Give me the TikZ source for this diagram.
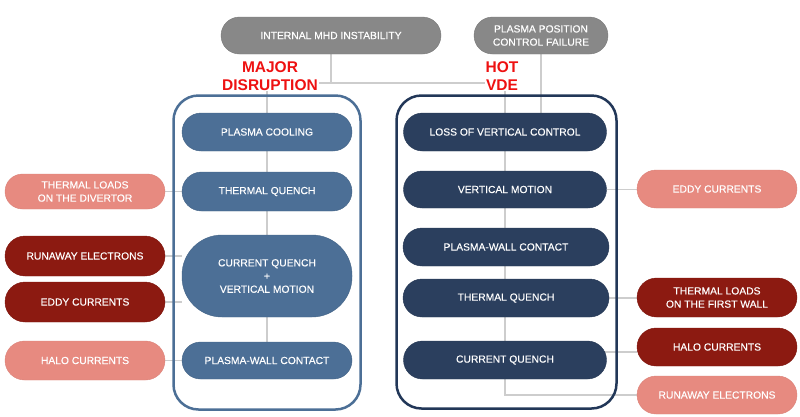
\documentclass[tikz,border=0pt]{standalone}
\usepackage{fontspec}
\setmainfont{Liberation Sans}
\newfontfamily\pillfont{Liberation Sans}[FakeBold=0.3]
\usetikzlibrary{backgrounds}
\definecolor{mgray}{HTML}{888888}
\definecolor{lblue}{HTML}{4C6F96}
\definecolor{navy}{HTML}{2B3F5E}
\definecolor{navyline}{HTML}{223758}
\definecolor{dred}{HTML}{8C1A11}
\definecolor{salmon}{HTML}{E78A80}
\definecolor{conn}{HTML}{CDCDCD}
\definecolor{redtxt}{HTML}{EE1111}
\begin{document}
\begin{tikzpicture}[x=1pt,y=-1pt,
  pill/.style={rectangle, text=white, align=center, inner sep=0pt,
    font=\pillfont\fontsize{10.3}{13.2}\selectfont},
  sz/.style n args={3}{minimum width=#1, minimum height=#2, rounded corners=#3},
  grayb/.style={pill, fill=mgray, draw=mgray!90!black, line width=0.4pt},
  lb/.style={pill, fill=lblue, draw=lblue!90!black, line width=0.4pt},
  nv/.style={pill, fill=navy, draw=navy!90!black, line width=0.4pt},
  dr/.style={pill, fill=dred, draw=dred!90!black, line width=0.4pt},
  sa/.style={pill, fill=salmon, draw=salmon!95!black, line width=0.4pt},
  cline/.style={draw=conn, line width=1.2pt},
  redlab/.style={text=redtxt, font=\bfseries\fontsize{15.5}{18}\selectfont, align=center, fill=white, inner sep=1pt}
]
\useasboundingbox (0,0) rectangle (800,416);

% top
\node[grayb, sz={220pt}{37pt}{18.5pt}] (mhd) at (331,35.5) {INTERNAL MHD INSTABILITY};
\node[grayb, sz={134pt}{37pt}{18.5pt}] (ppc) at (541,35.5) {PLASMA POSITION\\CONTROL FAILURE};

% left column
\node[lb, sz={170pt}{38pt}{19pt}] (pc) at (267,132) {PLASMA COOLING};
\node[lb, sz={170pt}{39pt}{19.5pt}] (tq) at (267,191.5) {THERMAL QUENCH};
\node[lb, sz={170pt}{82pt}{40pt}] (cqvm) at (267,276) {CURRENT QUENCH\\+\\VERTICAL MOTION};
\node[lb, sz={170pt}{37pt}{18.5pt}] (pwc) at (267,360.5) {PLASMA-WALL CONTACT};

% left externals
\node[sa, sz={160pt}{35pt}{17.5pt}] (tld) at (85,191.5) {THERMAL LOADS\\ON THE DIVERTOR};
\node[dr, sz={160pt}{40pt}{20pt}] (re) at (85,256) {RUNAWAY ELECTRONS};
\node[dr, sz={160pt}{40pt}{20pt}] (ec) at (85,302) {EDDY CURRENTS};
\node[sa, sz={160pt}{39pt}{19.5pt}] (hc) at (85,360.5) {HALO CURRENTS};

% right column
\node[nv, sz={203pt}{38pt}{19pt}] (lvc) at (505,132) {LOSS OF VERTICAL CONTROL};
\node[nv, sz={203pt}{37pt}{18.5pt}] (vm) at (505,189.5) {VERTICAL MOTION};
\node[nv, sz={206pt}{38pt}{19pt}] (pwc2) at (506,247) {PLASMA-WALL CONTACT};
\node[nv, sz={206pt}{38pt}{19pt}] (tq2) at (506,298) {THERMAL QUENCH};
\node[nv, sz={203pt}{38pt}{19pt}] (cq2) at (505,360) {CURRENT QUENCH};

% right externals
\node[sa, sz={160pt}{38pt}{19pt}] (ec2) at (717,189) {EDDY CURRENTS};
\node[dr, sz={160pt}{39pt}{19.5pt}] (tl2) at (717,297.5) {THERMAL LOADS\\ON THE FIRST WALL};
\node[dr, sz={160pt}{38pt}{19pt}] (hc2) at (717,347) {HALO CURRENTS};
\node[sa, sz={160pt}{38pt}{19pt}] (re2) at (717,395) {RUNAWAY ELECTRONS};

\coordinate (jl) at (267,83);
\coordinate (jr) at (505,83);
\coordinate (hy) at (700,352);

\begin{scope}[on background layer]
  \draw[cline] (mhd.south) -- (mhd.south |- jl);
  \draw[cline] (jl) -- (jr);
  \draw[cline] (jl) -- (pc.north);
  \draw[cline] (jr) -- (lvc.north);
  \draw[cline] (ppc.south) -- (ppc.south |- lvc.north);
  \draw[cline] (pc.south) -- (tq.north);
  \draw[cline] (tq.south) -- (cqvm.north);
  \draw[cline] (cqvm.south) -- (pwc.north);
  \draw[cline] (tld.east) -- (tq.west);
  \draw[cline] (re.east) -- (re.east -| cqvm.west);
  \draw[cline] (ec.east) -- (ec.east -| cqvm.west);
  \draw[cline] (hc.east) -- (pwc.west);
  \draw[cline] (lvc.south) -- (vm.north);
  \draw[cline] (vm.south) -- (vm.south |- pwc2.north);
  \draw[cline] (vm.south |- pwc2.south) -- (vm.south |- tq2.north);
  \draw[cline] (vm.south |- tq2.south) -- (cq2.north);
  \draw[cline] (vm.east) -- (vm.east -| ec2.west);
  \draw[cline] (tq2.east) -- (tq2.east -| tl2.west);
  \draw[cline] (cq2.center |- hy) -- (hc2.west |- hy);
  \draw[cline] (cq2.south) -- (cq2.south |- re2.west) -- (re2.west);
  % containers
  \draw[lblue, line width=2.5pt, rounded corners=25pt] (173.5,95.5) rectangle (360.5,409.5);
  \draw[navyline, line width=2.5pt, rounded corners=25pt] (396.5,95.5) rectangle (616.5,408.5);
\end{scope}

\node[redlab] (md) at (270,76) {MAJOR\\DISRUPTION};
\node[redlab] (hv) at (502,76) {HOT\\VDE};
\end{tikzpicture}
\end{document}
